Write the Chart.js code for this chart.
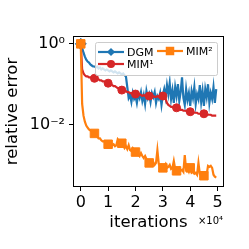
<!DOCTYPE html>
<html><head><meta charset="utf-8">
<script src="https://cdn.jsdelivr.net/npm/chart.js@4/dist/chart.umd.min.js"></script>
<style>html,body{margin:0;padding:0;background:#fff}#wrap{width:249px;height:249px}</style>
</head><body><div id="wrap"><canvas id="c" width="249" height="249"></canvas></div>
<script>
// iteration spacing between recorded points
const iterStep = 500;
const seriesLabels = ['DGM', 'MIM\u00B9', 'MIM\u00B2'];
const dgm = [1.0,0.799,0.603,0.482,0.407,0.364,0.344,0.308,0.291,0.275,
 0.275,0.260,0.275,0.246,0.260,0.232,0.246,0.232,0.220,0.232,
 0.220,0.208,0.220,0.208,0.196,0.208,0.196,0.185,0.196,0.185,
 0.175,0.185,0.166,0.157,0.0845,0.0456,0.0539,0.0364,0.0603,0.0431,
 0.0510,0.0344,0.0570,0.0456,0.0638,0.0385,0.0539,0.0325,0.0675,0.0456,
 0.0570,0.0364,0.0603,0.0482,0.0638,0.0344,0.0510,0.0431,0.0603,0.0307,
 0.0539,0.0755,0.0482,0.0945,0.0570,0.106,0.0431,0.0714,0.0344,0.0845,
 0.0510,0.100,0.0385,0.0638,0.148,0.0456,0.0307,0.0755,0.0407,0.0603,
 0.0291,0.0675,0.0456,0.0845,0.0325,0.0570,0.0431,0.0945,0.0364,0.0675,
 0.0291,0.0755,0.0482,0.100,0.0344,0.0603,0.0431,0.0845,0.0344,0.0755];
const mim1 = [1.0,0.232,0.185,0.166,0.157,0.157,0.148,0.148,0.148,0.140,
 0.140,0.140,0.132,0.132,0.125,0.125,0.118,0.118,0.112,0.112,
 0.106,0.100,0.100,0.0945,0.0893,0.0893,0.0845,0.0798,0.0798,0.0755,
 0.0714,0.0714,0.0675,0.0675,0.0638,0.0638,0.0603,0.0603,0.0570,0.0570,
 0.0570,0.0539,0.0539,0.0570,0.0539,0.0510,0.0539,0.0510,0.0510,0.0510,
 0.0510,0.0510,0.0482,0.0510,0.0482,0.0482,0.0510,0.0482,0.0510,0.0510,
 0.0510,0.0482,0.0431,0.0344,0.0307,0.0291,0.0275,0.0275,0.0260,0.0260,
 0.0260,0.0246,0.0246,0.0232,0.0232,0.0220,0.0220,0.0220,0.0208,0.0208,
 0.0208,0.0208,0.0196,0.0196,0.0196,0.0196,0.0185,0.0185,0.0185,0.0185,
 0.0185,0.0175,0.0175,0.0175,0.0175,0.0175,0.0166,0.0166,0.0166,0.0166];
const mim2 = [1.0,0.0325,0.0166,0.0118,0.00946,0.00845,0.00755,0.00714,0.00675,0.00638,
 0.00603,0.00539,0.00510,0.00456,0.00456,0.00407,0.00385,0.00385,0.00364,0.00344,
 0.00325,0.00325,0.00344,0.00307,0.00325,0.00291,0.00307,0.00431,0.00385,0.00325,
 0.00344,0.00307,0.00260,0.00291,0.00246,0.00307,0.00232,0.00220,0.00260,0.00232,
 0.00208,0.00220,0.00185,0.00166,0.00196,0.00166,0.00148,0.00166,0.00140,0.00125,
 0.00112,0.00125,0.00112,0.00118,0.00100,0.00112,0.00232,0.00106,0.000945,0.00100,
 0.000845,0.000945,0.00106,0.000845,0.000893,0.00100,0.000798,0.000845,0.00125,0.000798,
 0.000714,0.000755,0.000845,0.000714,0.000755,0.000675,0.00175,0.000755,0.000798,0.000675,
 0.000845,0.000638,0.000675,0.000603,0.000638,0.000570,0.00112,0.000603,0.000539,0.000570,
 0.000539,0.000510,0.000570,0.000945,0.000893,0.000945,0.000845,0.000570,0.000510,0.000482];
const xTicks = [0, 10000, 20000, 30000, 40000, 50000];
const yTicks = [1, 0.01];
const xScaleDivisor = 10000;

const iterations = dgm.map((_, i) => i * iterStep);
const colors = ['#1f77b4', '#d62728', '#ff7f0e'];
const styles = ['rectRot', 'circle', 'rect'];
const radii = [5.5, 4, 6];
const FONT = "'DejaVu Sans', sans-serif";
const sup = {'0':'\u2070','1':'\u00B9','2':'\u00B2','3':'\u00B3','4':'\u2074','-':'\u207B'};
const toSup = s => String(s).split('').map(c => sup[c] || c).join('');

function mk(i, data, markAll) {
  return {
    label: seriesLabels[i],
    order: 3 - i,
    data: data.map((v, k) => ({x: iterations[k], y: v})),
    borderColor: colors[i], backgroundColor: colors[i],
    pointBackgroundColor: colors[i], pointBorderColor: colors[i],
    borderWidth: 2.2, pointStyle: styles[i],
    pointRadius: c => (markAll ? c.dataIndex % 10 === 0 : c.dataIndex === 0) ? radii[i] : 0,
    pointBorderWidth: 1, tension: 0
  };
}

function drawMarker(ctx, style, x, y, r, col) {
  ctx.fillStyle = col; ctx.beginPath();
  if (style === 'circle') ctx.arc(x, y, r, 0, Math.PI * 2);
  else if (style === 'rect') { const s = r * Math.SQRT1_2; ctx.rect(x - s, y - s, 2 * s, 2 * s); }
  else { const s = r * Math.SQRT1_2 * 1.05; ctx.moveTo(x - s, y); ctx.lineTo(x, y - s); ctx.lineTo(x + s, y); ctx.lineTo(x, y + s); ctx.closePath(); }
  ctx.fill();
}

const boxLegend = {
  id: 'boxLegend',
  afterDatasetsDraw(chart) {
    const {ctx, chartArea: a} = chart;
    const bx = a.left + 21, by = a.top + 5, bw = 122, bh = 33;
    ctx.save();
    ctx.beginPath();
    ctx.roundRect(bx + 0.5, by + 0.5, bw, bh, 2);
    ctx.fillStyle = 'rgba(255,255,255,0.8)'; ctx.fill();
    ctx.strokeStyle = '#cccccc'; ctx.lineWidth = 1; ctx.stroke();
    const items = [[0, bx + 3, by + 10], [1, bx + 3, by + 22], [2, bx + 62, by + 9]];
    ctx.font = '11px ' + FONT; ctx.textBaseline = 'middle'; ctx.textAlign = 'left';
    items.forEach(([i, x, y]) => {
      ctx.strokeStyle = colors[i]; ctx.lineWidth = 2.2;
      ctx.beginPath(); ctx.moveTo(x, y); ctx.lineTo(x + 26, y); ctx.stroke();
      drawMarker(ctx, styles[i], x + 13, y, radii[i], colors[i]);
      ctx.fillStyle = '#000'; ctx.fillText(chart.data.datasets[i].label, x + 29, y + 1);
    });
    ctx.restore();
  },
  afterDraw(chart) {
    const {ctx, chartArea: a} = chart;
    ctx.save();
    ctx.strokeStyle = '#000'; ctx.lineWidth = 1;
    ctx.strokeRect(a.left - 0.5, a.top - 0.5, a.right - a.left + 1, a.bottom - a.top + 1);
    ctx.fillStyle = '#000'; ctx.font = '10px ' + FONT;
    ctx.textAlign = 'right'; ctx.textBaseline = 'alphabetic';
    ctx.fillText('\u00D710' + toSup(Math.log10(xScaleDivisor)), a.right, a.bottom + 38);
    ctx.restore();
  }
};

new Chart(document.getElementById('c'), {
  type: 'line',
  data: { datasets: [mk(0, dgm, false), mk(1, mim1, true), mk(2, mim2, true)] },
  options: {
    responsive: false, animation: false, devicePixelRatio: 1,
    layout: { padding: { left: 0, right: 26, top: 37, bottom: 0 } },
    plugins: { legend: { display: false }, tooltip: { enabled: false } },
    scales: {
      x: {
        type: 'linear', min: -2475, max: 51975,
        afterBuildTicks: s => { s.ticks = xTicks.map(v => ({value: v})); },
        afterFit: s => { s.height = 63; },
        ticks: { callback: v => String(v / xScaleDivisor), font: {family: FONT, size: 16}, color: '#000', padding: 2, maxRotation: 0, autoSkip: false },
        grid: { display: true, drawOnChartArea: false, tickLength: 5, tickColor: '#000', tickWidth: 1 },
        border: { display: false },
        title: { display: true, text: 'iterations', font: {family: FONT, size: 16.5}, color: '#000', padding: {top: 0, bottom: 16} }
      },
      y: {
        type: 'logarithmic', min: 0.000347, max: 1.479,
        afterBuildTicks: s => { s.ticks = yTicks.map(v => ({value: v})); },
        afterFit: s => { s.width = 74; },
        ticks: { callback: v => '10' + toSup(Math.round(Math.log10(v))), font: {family: FONT, size: 16}, color: '#000', padding: 4, autoSkip: false },
        grid: { display: true, drawOnChartArea: false, tickLength: 5, tickColor: '#000', tickWidth: 1 },
        border: { display: false },
        title: { display: true, text: 'relative error', font: {family: FONT, size: 16.5}, color: '#000', padding: {top: 2.5, bottom: 0} }
      }
    }
  },
  plugins: [boxLegend]
});
</script></body></html>
